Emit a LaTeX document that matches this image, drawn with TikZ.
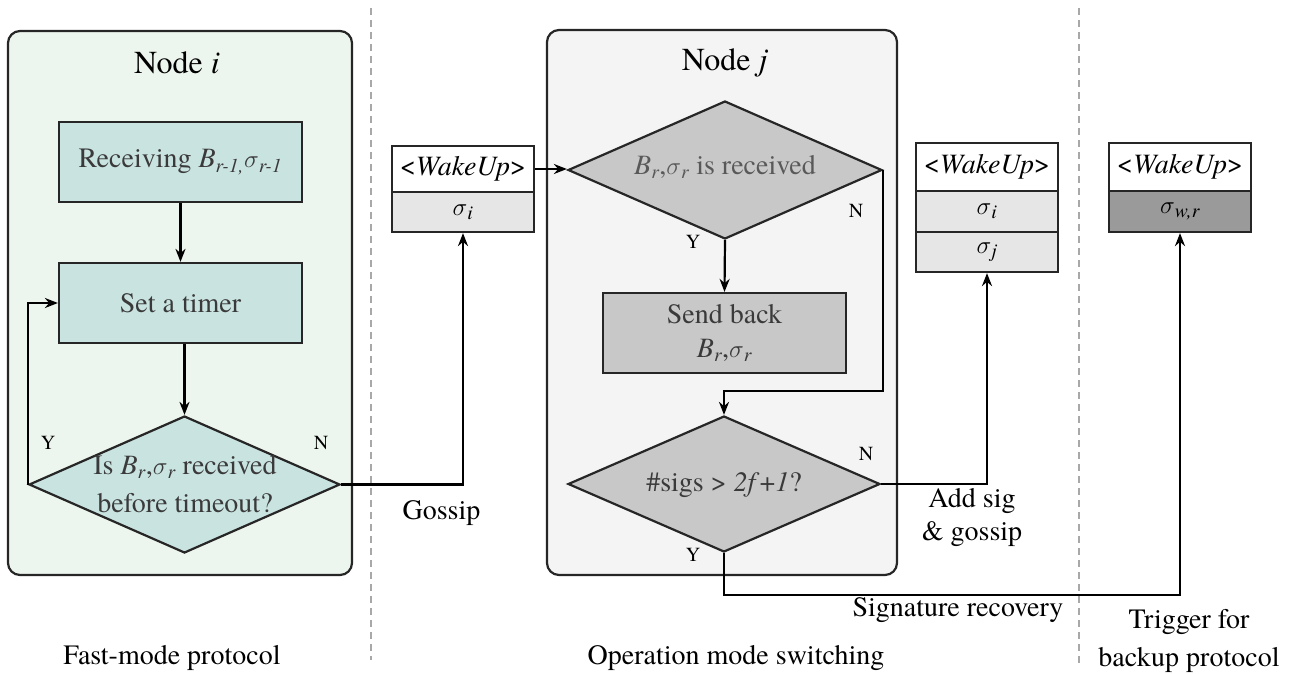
\documentclass[tikz,border=0pt]{standalone}
\usepackage{fontspec}
\setmainfont{texgyretermes}[Extension=.otf,UprightFont=*-regular,ItalicFont=*-italic,BoldFont=*-bold,BoldItalicFont=*-bolditalic]
\usetikzlibrary{shapes.geometric,arrows.meta,calc}
\definecolor{panelA}{HTML}{EDF6EE}
\definecolor{teal}{HTML}{C9E3E0}
\definecolor{panelB}{HTML}{F4F4F4}
\definecolor{grayfill}{HTML}{C8C8C8}
\definecolor{siglight}{HTML}{E6E6E6}
\definecolor{sigdark}{HTML}{9A9A9A}
\definecolor{sep}{HTML}{A8A8A8}
\definecolor{intext}{HTML}{3A3A3A}
\newcommand\sbs[1]{\textsubscript{\itshape #1}}
\newcommand\sg{\ensuremath{\sigma}}
\newcommand\fs[1]{\fontsize{#1}{#1}\selectfont}
\begin{document}
\begin{tikzpicture}[x=1pt,y=-1pt,
  lw/.style={line width=2.2pt},
  panel/.style={lw,draw=black!85,rounded corners=12pt,inner sep=0pt},
  boxA/.style={lw,draw=black!85,fill=teal,inner sep=0pt,minimum width=243pt,minimum height=80pt,font=\fs{28},text=intext,align=center},
  boxB/.style={boxA,fill=grayfill},
  dia/.style={lw,draw=black!85,diamond,inner sep=0pt},
  intxt/.style={font=\fs{28},text=intext,align=center,inner sep=0pt},
  wake/.style={lw,draw=black!85,fill=white,inner sep=0pt,minimum width=142pt,font=\fs{28}},
  yn/.style={font=\fs{20},inner sep=0pt},
  lbl/.style={font=\fs{28},align=center,inner sep=0pt},
  title/.style={font=\fs{32},inner sep=0pt},
  arr/.style={lw,-{Stealth[length=13pt,width=10pt]}},
  sepline/.style={line width=1.5pt,draw=sep,dash pattern=on 7pt off 5pt}
]
\useasboundingbox (0,0) rectangle (1299,673);
% separators
\draw[sepline] (371,8) -- (371,660);
\draw[sepline] (1079,8) -- (1079,665);
% panels
\node[panel,fill=panelA,minimum width=344pt,minimum height=544pt] (pi) at (180,303) {};
\node[panel,fill=panelB,minimum width=350pt,minimum height=545pt] (pj) at (722,302.5) {};
\node[title] (ti) at (177,63) {Node \textit{i}};
\node[title] (tj) at (725,63) {Node \textit{j}};
% node i flow
\node[boxA] (rec) at (180.5,162) {Receiving \textit{B}\sbs{r-1,}\sg\sbs{r-1}};
\node[boxA] (tim) at (180.5,303) {Set a timer};
\node[dia,fill=teal,minimum width=311pt,minimum height=137pt] (d1) at (184.5,484.5) {};
\node[intxt] (d1t) at (185,484) {Is \textit{B}\sbs{r},\sg\sbs{r} received\\[10pt]before timeout?};
\node[yn] (y1) at (48,443) {Y};
\node[yn] (n1) at (321,443) {N};
% wakeup 1
\node[wake,minimum height=46pt] (w1) at (463,169) {<\textit{WakeUp}>};
\node[wake,fill=siglight,minimum height=40pt] (s1) at (463,212) {\sg\sbs{i}};
% node j flow
\node[dia,fill=grayfill,minimum width=314pt,minimum height=138pt] (d2) at (725,170) {};
\node[intxt,text=black!65] (d2t) at (725,167) {\textit{B}\sbs{r},\sg\sbs{r} is received};
\node[yn] (y2) at (693,242) {Y};
\node[yn] (n2) at (856,211) {N};
\node[boxB] (sb) at (724.5,333) {Send back\\[6pt]\textit{B}\sbs{r},\sg\sbs{r}};
\node[dia,fill=grayfill,minimum width=312pt,minimum height=136pt] (d3) at (724,484) {};
\node[intxt] (d3t) at (724,485) {\#sigs > \textit{2f}+\textit{1}?};
\node[yn] (n3) at (866,454) {N};
\node[yn] (y3) at (693,555) {Y};
% wakeup 2
\node[wake,minimum height=48pt] (w2) at (987,167) {<\textit{WakeUp}>};
\node[wake,fill=siglight,minimum height=41pt] (si2) at (987,211.5) {\sg\sbs{i}};
\node[wake,fill=siglight,minimum height=40pt] (sj2) at (987,252) {\sg\sbs{j}};
% wakeup 3
\node[wake,minimum height=48pt] (w3) at (1180,167) {<\textit{WakeUp}>};
\node[wake,fill=sigdark,minimum height=41pt] (sw) at (1180,211.5) {\sg\sbs{w,r}};
% labels
\node[lbl] (gos) at (441.5,513) {Gossip};
\node[lbl] (add) at (972,517) {Add sig\\[5pt]\& gossip};
\node[lbl] (sig) at (958,610) {Signature recovery};
\node[lbl] (trg) at (1189,641) {Trigger for\\[10pt]backup protocol};
\node[lbl] (fm) at (172,658) {Fast-mode protocol};
\node[lbl] (oms) at (736,658) {Operation mode switching};
% connectors
\draw[arr] (rec.south) -- (tim.north);
\draw[arr] (tim.south -| d1.north) -- (d1.north);
\draw[arr] (d1.west) |- (tim.west);
\draw[arr] (d1.east) -| (s1.south);
\draw[arr] (w1.east) -- (w1.east -| d2.west);
\draw[arr] (d2.south) -- (sb.north);
\coordinate (b1) at ([yshift=24pt]d3.north);
\draw[arr] (d2.east) |- (b1) -- (d3.north);
\draw[arr] (d3.east) -| (sj2.south);
\coordinate (b2) at ([yshift=-42pt]d3.south);
\draw[arr] (d3.south) -- (b2) -| (sw.south);
\end{tikzpicture}
\end{document}
